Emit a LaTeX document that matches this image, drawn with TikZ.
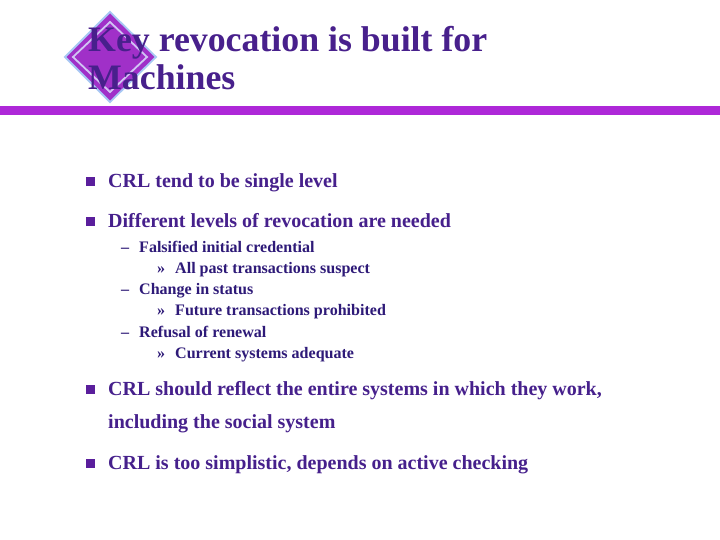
\documentclass[tikz,border=0pt]{standalone}
\usepackage{fontspec}
\setmainfont{Liberation Serif}
\definecolor{titlec}{HTML}{48208C}
\definecolor{onec}{HTML}{46208C}
\definecolor{twoc}{HTML}{2E1A78}
\definecolor{rulec}{HTML}{AE28D8}
\definecolor{diamc}{HTML}{A030C8}
\definecolor{diaml}{HTML}{A8C8F4}
\definecolor{diamin}{HTML}{D0C4F4}
\definecolor{bulc}{HTML}{5A1E9C}
\tikzset{
  x=1pt,y=-1pt,
  titletext/.style={anchor=base west,inner sep=0pt,font=\fontsize{35.8}{36}\selectfont\bfseries,text=titlec},
  leveltext/.style={anchor=base west,inner sep=0pt,font=\fontsize{20}{20}\selectfont\bfseries,text=onec},
  subtext/.style={anchor=base west,inner sep=0pt,font=\fontsize{16.05}{16}\selectfont\bfseries,text=twoc},
  bulletbox/.style={fill=bulc,draw=none,inner sep=0pt,minimum size=9pt,rectangle},
}
\begin{document}
\begin{tikzpicture}
\useasboundingbox (0,0) rectangle (720,540);
\fill[white] (0,0) rectangle (720,540);
% emblem
\fill[diamc,draw=diaml,line width=1.8pt] (110,12) -- (156,57) -- (110,102) -- (65,57) -- cycle;
\draw[diamin,line width=1.8pt] (110,22) -- (147,57) -- (110,92) -- (73,57) -- cycle;
% rule
\fill[rulec] (0,106) rectangle (720,115);
% title
\node[titletext] (t1) at (88,52) {Key revocation is built for};
\node[titletext] (t2) at (88,90) {Machines};
% bullets
\node[bulletbox] (b1) at (90,181.5) {};
\node[bulletbox] (b2) at (90,221.5) {};
\node[bulletbox] (b3) at (90,389.5) {};
\node[bulletbox] (b4) at (90,463.5) {};
% level one
\node[leveltext] (l1) at (108,187.7) {CRL tend to be single level};
\node[leveltext] (l2) at (108,227.7) {Different levels of revocation are needed};
\node[leveltext] (l3) at (108,395.7) {CRL should reflect the entire systems in which they work,};
\node[leveltext] (l3b) at (108,428.7) {including the social system};
\node[leveltext] (l4) at (108,469.7) {CRL is too simplistic, depends on active checking};
% level two
\node[subtext] (d1) at (121,252) {–};
\node[subtext] (s1) at (139,252) {Falsified initial credential};
\node[subtext] (r1) at (157,273) {»};
\node[subtext] (s2) at (175,273) {All past transactions suspect};
\node[subtext] (d2) at (121,294) {–};
\node[subtext] (s3) at (139,294) {Change in status};
\node[subtext] (r2) at (157,315) {»};
\node[subtext] (s4) at (175,315) {Future transactions prohibited};
\node[subtext] (d3) at (121,337) {–};
\node[subtext] (s5) at (139,337) {Refusal of renewal};
\node[subtext] (r3) at (157,358) {»};
\node[subtext] (s6) at (175,358) {Current systems adequate};
\end{tikzpicture}
\end{document}
